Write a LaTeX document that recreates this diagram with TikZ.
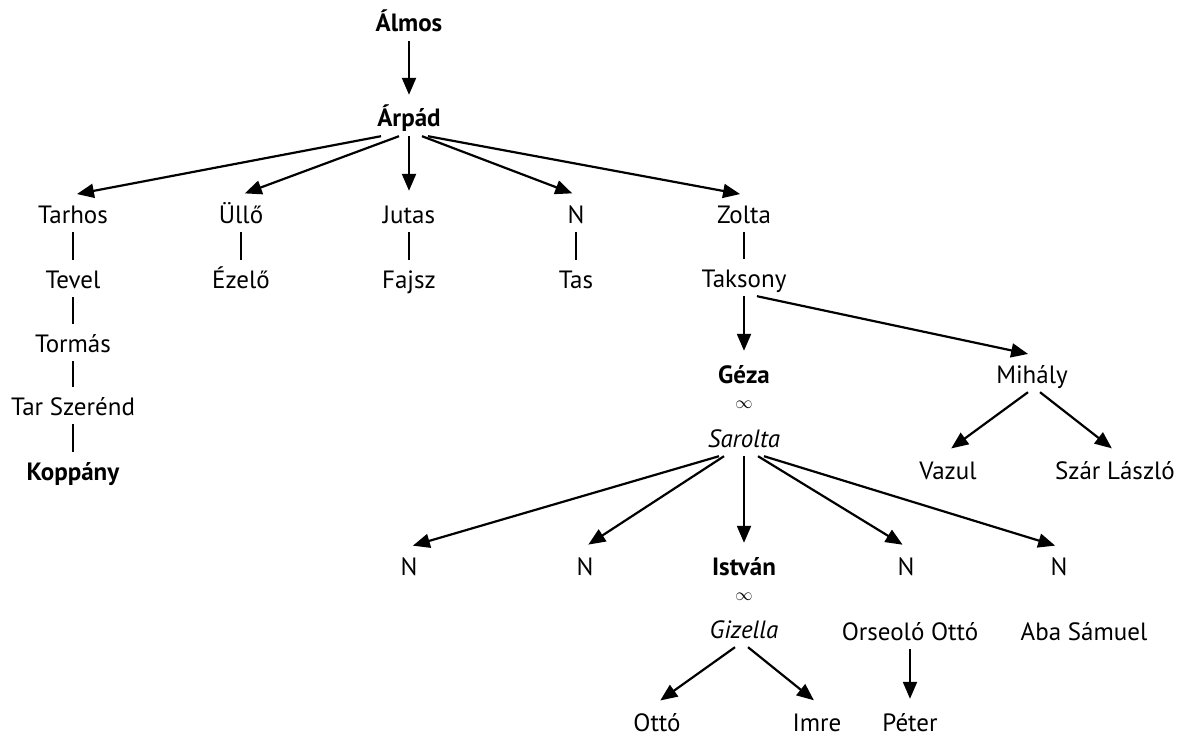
\documentclass[tikz,border=0pt]{standalone}
\usepackage{fontspec}
\setmainfont{PT Sans}
\usetikzlibrary{arrows.meta}

\begin{document}
\begin{tikzpicture}[x=1pt,y=-1pt,
	every node/.style={font=\fontsize{25}{28}\selectfont,anchor=base,text height=24pt,text depth=5pt,inner xsep=2pt,inner ysep=4pt},
	marriage/.style={font=\fontsize{18}{20}\selectfont,anchor=center,text height=,text depth=,inner sep=0pt},
	link/.style={line width=2.2pt},
	arr/.style={line width=2.2pt,-{Triangle[length=17pt,width=14pt]},shorten >=4pt}]
	\useasboundingbox (0,0) rectangle (1183,738);
	% top of the line
	\node (almos) at (409,32) {\textbf{Álmos}};
	\node (arpad) at (409,127) {\textbf{Árpád}};
	% sons of Arpad
	\node (tarhos) at (73,223) {Tarhos};
	\node (tevel) at (73,288) {Tevel};
	\node (tormas) at (73,352) {Tormás};
	\node (tarszerend) at (73,415) {Tar Szerénd};
	\node (koppany) at (73,480) {\textbf{Koppány}};
	\node (ullo) at (241,223) {Üllő};
	\node (ezelo) at (241,288) {Ézelő};
	\node (jutas) at (409,223) {Jutas};
	\node (fajsz) at (409,288) {Fajsz};
	\node (n1) at (576,223) {N};
	\node (tas) at (576,288) {Tas};
	\node (zolta) at (744,223) {Zolta};
	\node (taksony) at (744,287) {Taksony};
	% Taksony's line
	\node (geza) at (744,383) {\textbf{Géza}};
	\node[marriage] (inf1) at (744,405) {$\infty$};
	\node (sarolta) at (744,447) {\textit{Sarolta}};
	\node (mihaly) at (1032,383) {Mihály};
	\node (vazul) at (948,479) {Vazul};
	\node (szar) at (1115,479) {Szár László};
	% children of Geza
	\node (sn1) at (409,575) {N};
	\node (sn2) at (585,575) {N};
	\node (istvan) at (744,575) {\textbf{István}};
	\node (sn3) at (906,575) {N};
	\node (sn4) at (1059,575) {N};
	\node[marriage] (inf2) at (744,597) {$\infty$};
	\node (gizella) at (744,638) {\textit{Gizella}};
	\node (orseolo) at (910,640) {Orseoló Ottó};
	\node (aba) at (1084,640) {Aba Sámuel};
	\node (otto) at (657,731) {Ottó};
	\node (imre) at (817,731) {Imre};
	\node (peter) at (910,731) {Péter};
	% plain links
	\draw[link] (tarhos) -- (tevel) (tevel) -- (tormas) (tormas) -- (tarszerend) (tarszerend) -- (koppany);
	\draw[link] (ullo) -- (ezelo) (jutas) -- (fajsz) (n1) -- (tas) (zolta) -- (taksony);
	% arrows
	\foreach \s/\dx/\t in {almos/0/arpad, arpad/-28/tarhos, arpad/-10/ullo, arpad/0/jutas, arpad/13/n1, arpad/19/zolta,
		taksony/0/geza, taksony/13/mihaly, mihaly/-4/vazul, mihaly/8/szar,
		sarolta/-25/sn1, sarolta/-20/sn2, sarolta/0/istvan, sarolta/14/sn3, sarolta/20/sn4,
		gizella/-9/otto, gizella/4/imre, orseolo/0/peter}
		\draw[arr] ([xshift=\dx pt]\s.south) -- (\t.north);
\end{tikzpicture}
\end{document}
